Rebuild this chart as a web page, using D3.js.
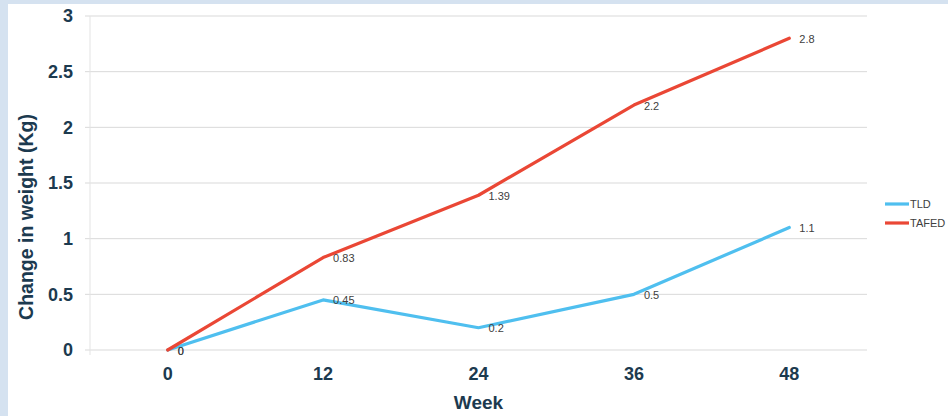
<!DOCTYPE html>
<html><head><meta charset="utf-8">
<script src="https://cdn.jsdelivr.net/npm/d3@7"></script>
<style>
html,body{margin:0;padding:0;background:#d5e2f0;}
svg{display:block;}
</style></head>
<body>
<svg id="c" width="948" height="416"></svg>
<script>
const weeks = ["0","12","24","36","48"];
const tld = [0, 0.45, 0.2, 0.5, 1.1];
const tafed = [0, 0.83, 1.39, 2.2, 2.8];
const yTicks = [0, 0.5, 1, 1.5, 2, 2.5, 3];
const seriesNames = ["TLD", "TAFED"];
const seriesColors = ["#4fbfef", "#ea4735"];

const svg = d3.select("#c");
svg.append("rect").attr("x",8).attr("y",4).attr("width",940).attr("height",412).attr("fill","#ffffff");

const L=90, R=867, T=16, B=350;
const x = d3.scaleBand().domain(weeks).range([L,R]);
const y = d3.scaleLinear().domain([0,3]).range([B,T]);
const cx = d => x(d)+x.bandwidth()/2;
const ink = "#1c3a4f";

// gridlines
svg.append("g").selectAll("line").data(yTicks).join("line")
  .attr("x1",L-5).attr("x2",R).attr("y1",d=>y(d)).attr("y2",d=>y(d))
  .attr("stroke","#d9d9d9").attr("stroke-width",1);
svg.append("line").attr("x1",L).attr("x2",L).attr("y1",T).attr("y2",B+5)
  .attr("stroke","#e3e3e3").attr("stroke-width",1);

// y axis labels
const yAxis = svg.append("g").attr("transform",`translate(${L},0)`)
  .call(d3.axisLeft(y).tickValues(yTicks).tickFormat(d3.format("")).tickSize(0).tickPadding(17));
yAxis.select(".domain").remove();
yAxis.selectAll("text").attr("font-family","Liberation Sans, Arial, sans-serif")
  .attr("font-size",18).attr("font-weight","bold").attr("fill",ink);

// x axis labels
const xAxis = svg.append("g").attr("transform",`translate(0,${B})`)
  .call(d3.axisBottom(x).tickSize(0).tickPadding(17));
xAxis.select(".domain").remove();
xAxis.selectAll("text").attr("font-family","Liberation Sans, Arial, sans-serif")
  .attr("font-size",18).attr("font-weight","bold").attr("fill",ink);

// axis titles
svg.append("text").attr("x",(L+R)/2).attr("y",409).attr("text-anchor","middle")
  .attr("font-family","Liberation Sans, Arial, sans-serif").attr("font-size",19)
  .attr("font-weight","bold").attr("fill",ink).text("Week");
svg.append("text").attr("transform",`translate(33,217) rotate(-90)`).attr("text-anchor","middle")
  .attr("font-family","Liberation Sans, Arial, sans-serif").attr("font-size",19.5)
  .attr("font-weight","bold").attr("fill",ink).text("Change in weight (Kg)");

const line = d3.line().x((d,i)=>cx(weeks[i])).y(d=>y(d));
const all = [tld, tafed];
all.forEach((s,k)=>{
  svg.append("path").datum(s).attr("d",line).attr("fill","none")
    .attr("stroke",seriesColors[k]).attr("stroke-width",3.2)
    .attr("stroke-linejoin","round").attr("stroke-linecap","round");
});
all.forEach((s,k)=>{
  svg.append("g").selectAll("text").data(s).join("text")
    .attr("x",(d,i)=>cx(weeks[i])+10).attr("y",d=>y(d)+4.5)
    .attr("font-family","Liberation Sans, Arial, sans-serif").attr("font-size",11)
    .attr("fill","#404040").text(d=>d);
});

// legend
seriesNames.forEach((n,k)=>{
  const ly = 204 + k*19;
  svg.append("line").attr("x1",885).attr("x2",909).attr("y1",ly).attr("y2",ly)
    .attr("stroke",seriesColors[k]).attr("stroke-width",3.2);
  svg.append("text").attr("x",910).attr("y",ly+4).attr("font-family","Liberation Sans, Arial, sans-serif")
    .attr("font-size",11).attr("fill","#404040").text(n);
});
</script>
</body></html>
